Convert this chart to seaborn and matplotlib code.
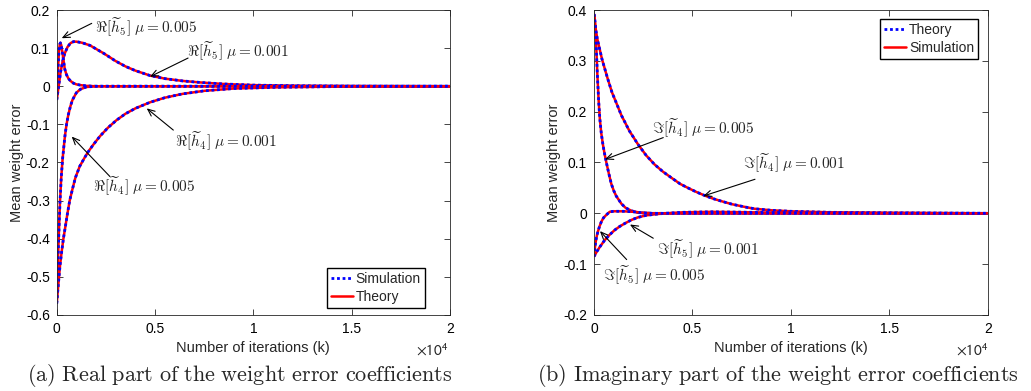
"""
Mean weight error of the real / imaginary coefficients vs. iterations
(theory vs. simulation, two step sizes).
"""

import pandas as pd
import seaborn as sns
import matplotlib.pyplot as plt
from matplotlib.lines import Line2D
from matplotlib.ticker import FuncFormatter, MultipleLocator

# ---------------------------
# Data
# ---------------------------
# (a) real part
k_re5_fast = [0, 40, 80, 120, 160, 190, 230, 280, 340, 410, 500, 600, 700, 850,
              1000, 1200, 1500, 2000, 3000, 5000, 10000, 20000]
v_re5_fast = [-0.036, 0.01, 0.06, 0.095, 0.111, 0.114, 0.108, 0.092, 0.07, 0.045,
              0.03, 0.02, 0.014, 0.008, 0.005, 0.003, 0.001, 0.0, 0.0, 0.0, 0.0, 0.0]

k_re5_slow = [0, 100, 200, 300, 400, 550, 700, 850, 1000, 1300, 1700, 2000, 2400,
              3000, 3500, 4000, 4750, 5500, 6400, 7300, 8500, 10000, 12000, 15000, 20000]
v_re5_slow = [-0.036, 0.0, 0.038, 0.065, 0.085, 0.103, 0.113, 0.117, 0.117, 0.114,
              0.107, 0.098, 0.086, 0.066, 0.052, 0.041, 0.028, 0.02, 0.014, 0.01,
              0.006, 0.003, 0.0015, 0.0005, 0.0]

k_re4_fast = [0, 20, 40, 60, 80, 120, 170, 230, 300, 340, 420, 500, 590, 700, 800,
              1000, 1200, 1500, 2000, 3000, 20000]
v_re4_fast = [-0.57, -0.53, -0.50, -0.465, -0.43, -0.37, -0.30, -0.24, -0.19, -0.17,
              -0.13, -0.10, -0.075, -0.052, -0.036, -0.017, -0.008, -0.002, 0.0, 0.0, 0.0]

k_re4_slow = [0, 50, 100, 170, 250, 340, 450, 550, 660, 800, 950, 1170, 1400, 1600,
              1850, 2200, 2600, 3040, 3500, 4000, 4750, 5500, 6400, 7500, 9000,
              11000, 14000, 20000]
v_re4_slow = [-0.57, -0.54, -0.51, -0.47, -0.435, -0.40, -0.365, -0.333, -0.30, -0.27,
              -0.24, -0.21, -0.189, -0.172, -0.154, -0.131, -0.109, -0.089, -0.072,
              -0.058, -0.042, -0.03, -0.02, -0.012, -0.006, -0.003, -0.001, 0.0]

# (b) imaginary part
k_im4_fast = [0, 35, 70, 120, 170, 240, 300, 370, 460, 540, 630, 750, 880, 1000,
              1130, 1390, 1600, 1900, 2300, 3000, 20000]
v_im4_fast = [0.392, 0.385, 0.368, 0.325, 0.275, 0.22, 0.185, 0.158, 0.134, 0.117,
              0.1, 0.079, 0.058, 0.045, 0.034, 0.019, 0.011, 0.005, 0.001, 0.0, 0.0]

k_im4_slow = [0, 60, 170, 410, 680, 915, 1180, 1390, 1800, 2230, 2650, 3080, 3500,
              3930, 4370, 4770, 5200, 5620, 6040, 6460, 7000, 7730, 8150, 9000,
              10000, 12000, 15000, 20000]
v_im4_slow = [0.392, 0.37, 0.343, 0.303, 0.267, 0.238, 0.213, 0.193, 0.162, 0.136,
              0.114, 0.096, 0.082, 0.07, 0.058, 0.05, 0.042, 0.035, 0.029, 0.024,
              0.018, 0.012, 0.009, 0.006, 0.004, 0.002, 0.001, 0.0]

k_im5_fast = [0, 40, 80, 120, 160, 200, 280, 370, 480, 630, 800, 1000, 1500, 2000,
              2500, 3000, 20000]
v_im5_fast = [-0.085, -0.07, -0.058, -0.049, -0.042, -0.036, -0.026, -0.017, -0.009,
              -0.003, 0.003, 0.004, 0.004, 0.003, 0.001, 0.0, 0.0]

k_im5_slow = [0, 150, 300, 540, 800, 1050, 1300, 1560, 1900, 2230, 2650, 3080, 3600,
              4500, 6000, 8000, 10000, 20000]
v_im5_slow = [-0.085, -0.075, -0.066, -0.053, -0.042, -0.033, -0.026, -0.02, -0.013,
              -0.008, -0.004, -0.002, 0.0, 0.002, 0.003, 0.002, 0.001, 0.0]

# ---------------------------
# Style
# ---------------------------
sns.set_style("ticks")
plt.rcParams["font.family"] = ["Liberation Sans", "DejaVu Sans"]
plt.rcParams["mathtext.fontset"] = "cm"
plt.rcParams["axes.unicode_minus"] = False

RED = "#ff0000"
BLUE = "#0000ff"
DOT = (0, (1, 1))
AXCOL = "#262626"

fig = plt.figure(figsize=(10.31, 3.91), dpi=100)
ax_a = fig.add_axes([0.055, 0.1944, 0.3815, 0.780])
ax_b = fig.add_axes([0.5761, 0.1944, 0.3822, 0.780])


def draw_pair(ax, k, v):
    df = pd.DataFrame({"k": k, "v": v})
    sns.lineplot(data=df, x="k", y="v", ax=ax, color=RED, lw=1.8, solid_capstyle="butt")
    sns.lineplot(data=df, x="k", y="v", ax=ax, color=BLUE, lw=2.0, linestyle=DOT)


def style_axes(ax, ylo, yhi):
    ax.set_xlim(0, 20000)
    ax.set_ylim(ylo, yhi)
    ax.xaxis.set_major_locator(MultipleLocator(5000))
    ax.xaxis.set_major_formatter(FuncFormatter(lambda x, _: f"{x / 1e4:g}"))
    ax.yaxis.set_major_locator(MultipleLocator(0.1))
    ax.yaxis.set_major_formatter(
        FuncFormatter(lambda y, _: "0" if abs(y) < 1e-9 else f"{y:.1f}"))
    ax.tick_params(direction="in", top=True, right=True, length=4, width=0.6,
                   labelsize=10, colors=AXCOL, labelcolor="black", pad=5)
    for sp in ax.spines.values():
        sp.set_visible(True)
        sp.set_linewidth(0.6)
        sp.set_color(AXCOL)
    ax.set_xlabel("Number of iterations (k)", fontsize=10.5, labelpad=4)
    ax.set_ylabel("Mean weight error", fontsize=10.5, labelpad=1.5)


def arrow_note(ax, text, txy, tail, tip):
    ax.text(txy[0], txy[1], text, fontsize=11, ha="left", va="center")
    ax.annotate("", xy=tip, xytext=tail,
                arrowprops=dict(arrowstyle="->,head_length=0.5,head_width=0.22",
                                color="black", lw=0.8, shrinkA=0, shrinkB=0))


# ---------------------------
# (a) Real part
# ---------------------------
for k, v in [(k_re5_slow, v_re5_slow), (k_re4_slow, v_re4_slow),
             (k_re5_fast, v_re5_fast), (k_re4_fast, v_re4_fast)]:
    draw_pair(ax_a, k, v)
style_axes(ax_a, -0.6, 0.2)

arrow_note(ax_a, r"$\Re[\widetilde{h}_5]\ \mu = 0.005$", (1940, 0.156), (1780, 0.165), (254, 0.126))
arrow_note(ax_a, r"$\Re[\widetilde{h}_5]\ \mu = 0.001$", (6610, 0.091), (6680, 0.074), (4745, 0.025))
arrow_note(ax_a, r"$\Re[\widetilde{h}_4]\ \mu = 0.001$", (6020, -0.145), (5930, -0.115), (4577, -0.058))
arrow_note(ax_a, r"$\Re[\widetilde{h}_4]\ \mu = 0.005$", (1850, -0.263), (2710, -0.237), (763, -0.132))

h_a = [Line2D([], [], color=BLUE, lw=2.0, linestyle=DOT),
       Line2D([], [], color=RED, lw=1.8)]
ax_a.legend(h_a, ["Simulation", "Theory"], loc="lower right",
            bbox_to_anchor=(0.9365, 0.024), borderaxespad=0, fontsize=10,
            frameon=True, fancybox=False, edgecolor="black", framealpha=1,
            handlelength=1.6, handletextpad=0.2, borderpad=0.3, labelspacing=0.25)

# ---------------------------
# (b) Imaginary part
# ---------------------------
for k, v in [(k_im4_slow, v_im4_slow), (k_im5_slow, v_im5_slow),
             (k_im4_fast, v_im4_fast), (k_im5_fast, v_im5_fast)]:
    draw_pair(ax_b, k, v)
style_axes(ax_b, -0.2, 0.4)

arrow_note(ax_b, r"$\Im[\widetilde{h}_4]\ \mu = 0.005$", (2930, 0.168), (3518, 0.149), (558, 0.106))
arrow_note(ax_b, r"$\Im[\widetilde{h}_4]\ \mu = 0.001$", (7580, 0.099), (8173, 0.067), (5548, 0.034))
arrow_note(ax_b, r"$\Im[\widetilde{h}_5]\ \mu = 0.001$", (3183, -0.071), (3010, -0.049), (1827, -0.022))
arrow_note(ax_b, r"$\Im[\widetilde{h}_5]\ \mu = 0.005$", (472, -0.121), (1660, -0.091), (305, -0.035))

h_b = [Line2D([], [], color=BLUE, lw=2.0, linestyle=DOT),
       Line2D([], [], color=RED, lw=1.8)]
ax_b.legend(h_b, ["Theory", "Simulation"], loc="upper right",
            bbox_to_anchor=(0.9754, 0.970), borderaxespad=0, fontsize=10,
            frameon=True, fancybox=False, edgecolor="black", framealpha=1,
            handlelength=1.6, handletextpad=0.2, borderpad=0.3, labelspacing=0.25)

# ---------------------------
# Offset labels and captions
# ---------------------------
fig.text(448 / 1031, 1 - 356 / 391, r"$\times10^{4}$", fontsize=11, ha="right",
         va="baseline", math_fontfamily="stixsans")
fig.text(988 / 1031, 1 - 356 / 391, r"$\times10^{4}$", fontsize=11, ha="right",
         va="baseline", math_fontfamily="stixsans")

fig.text(26.7 / 1031, 1 - 381 / 391,
         r"$\mathrm{(a)\ Real\ part\ of\ the\ weight\ error\ coefficients}$",
         fontsize=16, ha="left", va="baseline")
fig.text(536.7 / 1031, 1 - 381 / 391,
         r"$\mathrm{(b)\ Imaginary\ part\ of\ the\ weight\ error\ coefficients}$",
         fontsize=16, ha="left", va="baseline")

# ---------------------------
# Save PNG
# ---------------------------
fig.savefig("out.png", dpi=100)
